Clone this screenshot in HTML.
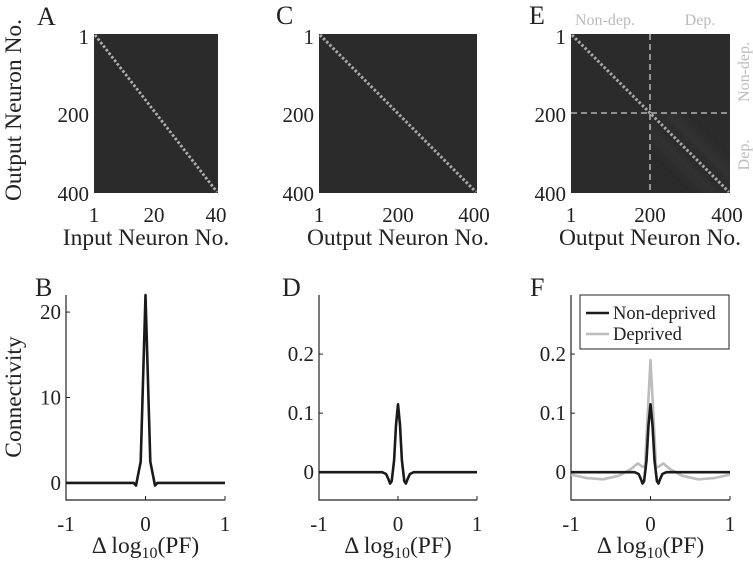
<!DOCTYPE html>
<html><head><meta charset="utf-8">
<style>
html,body{margin:0;padding:0;background:#fff;}
svg{display:block;font-family:"Liberation Serif",serif;}
.t{font-size:21px;fill:#222;}
.lab{font-size:23.5px;fill:#222;}
.pl{font-size:26px;fill:#222;}
.g{font-size:16px;fill:#bbb;}
</style></head>
<body>
<svg id="fig" width="753" height="564" viewBox="0 0 753 564">
<defs><filter id="bl"><feGaussianBlur stdDeviation="4"/></filter>
<clipPath id="ce"><rect x="650" y="113" width="80" height="80"/></clipPath></defs>
<!-- Panel A -->
<g>
<text class="pl" x="37" y="25">A</text>
<rect x="94" y="34" width="124" height="159" fill="#2b2b2b"/>
<line x1="95" y1="35" x2="217" y2="192" stroke="#b0b0b0" stroke-width="2.8" stroke-dasharray="2.5,2"/>
<text class="t" x="89" y="44" text-anchor="end">1</text>
<text class="t" x="89" y="122" text-anchor="end">200</text>
<text class="t" x="89" y="201" text-anchor="end">400</text>
<text class="t" x="94" y="222" text-anchor="middle">1</text>
<text class="t" x="154" y="222" text-anchor="middle">20</text>
<text class="t" x="216" y="222" text-anchor="middle">40</text>
<text class="lab" x="146" y="245" text-anchor="middle">Input Neuron No.</text>
<text class="lab" transform="translate(21,110) rotate(-90)" text-anchor="middle">Output Neuron No.</text>
</g>
<!-- Panel C -->
<g>
<text class="pl" x="276" y="24">C</text>
<rect x="319" y="34" width="158" height="159" fill="#2b2b2b"/>
<line x1="320" y1="35" x2="476" y2="192" stroke="#a8a8a8" stroke-width="3" stroke-dasharray="2.5,2"/>
<text class="t" x="314" y="44" text-anchor="end">1</text>
<text class="t" x="314" y="122" text-anchor="end">200</text>
<text class="t" x="314" y="201" text-anchor="end">400</text>
<text class="t" x="319" y="222" text-anchor="middle">1</text>
<text class="t" x="398" y="222" text-anchor="middle">200</text>
<text class="t" x="474" y="222" text-anchor="middle">400</text>
<text class="lab" x="398" y="245" text-anchor="middle">Output Neuron No.</text>
</g>
<!-- Panel E -->
<g>
<text class="pl" x="529" y="24">E</text>
<rect x="571" y="34" width="159" height="159" fill="#2b2b2b"/>
<g clip-path="url(#ce)"><line x1="650" y1="113" x2="730" y2="193" stroke="#333" stroke-width="40" filter="url(#bl)"/><line x1="650" y1="113" x2="730" y2="193" stroke="#2a2a2a" stroke-width="14" filter="url(#bl)"/></g>
<line x1="572" y1="35" x2="729" y2="192" stroke="#a8a8a8" stroke-width="3" stroke-dasharray="2.5,2"/>
<line x1="650" y1="34" x2="650" y2="193" stroke="#ccc" stroke-width="1.3" stroke-dasharray="6,4"/>
<line x1="571" y1="113" x2="730" y2="113" stroke="#ccc" stroke-width="1.3" stroke-dasharray="6,4"/>
<text class="g" x="605" y="25" text-anchor="middle">Non-dep.</text>
<text class="g" x="700" y="25" text-anchor="middle">Dep.</text>
<text class="g" transform="translate(749,72) rotate(-90)" text-anchor="middle">Non-dep.</text>
<text class="g" transform="translate(749,155) rotate(-90)" text-anchor="middle">Dep.</text>
<text class="t" x="566" y="44" text-anchor="end">1</text>
<text class="t" x="566" y="122" text-anchor="end">200</text>
<text class="t" x="566" y="201" text-anchor="end">400</text>
<text class="t" x="571" y="222" text-anchor="middle">1</text>
<text class="t" x="650" y="222" text-anchor="middle">200</text>
<text class="t" x="727" y="222" text-anchor="middle">400</text>
<text class="lab" x="650" y="245" text-anchor="middle">Output Neuron No.</text>
</g>
<text class="pl" x="35" y="296">B</text>
<text class="pl" x="282" y="296">D</text>
<text class="pl" x="530" y="296">F</text>
<g id="plots"></g>
</svg>
<script>
const xTicks = [-1, 0, 1];
const bX = [-1, -0.15, -0.12, -0.06, 0, 0.06, 0.12, 0.15, 1];
const bY = [0, 0, -0.3, 2.5, 22, 2.5, -0.3, 0, 0];
const bTicks = [0, 10, 20];
const dX = [-1, -0.3, -0.2, -0.15, -0.12, -0.1, -0.08, -0.05, -0.025, 0, 0.025, 0.05, 0.08, 0.1, 0.12, 0.15, 0.2, 0.3, 1];
const dY = [0, 0, 0, -0.003, -0.012, -0.019, -0.015, 0.02, 0.08, 0.115, 0.08, 0.02, -0.015, -0.019, -0.012, -0.003, 0, 0, 0];
const dTicks = [0, 0.1, 0.2];
const fGrayX = [-1, -0.8, -0.6, -0.4, -0.25, -0.16, -0.11, -0.07, -0.035, 0, 0.035, 0.07, 0.11, 0.16, 0.25, 0.4, 0.6, 0.8, 1];
const fGrayY = [-0.004, -0.01, -0.012, -0.006, 0.005, 0.015, 0.01, 0.008, 0.1, 0.19, 0.1, 0.008, 0.01, 0.015, 0.005, -0.006, -0.012, -0.01, -0.004];
const NS = 'http://www.w3.org/2000/svg';
const root = document.getElementById('plots');
function mk(tag, attrs, parent){const e=document.createElementNS(NS,tag);for(const k in attrs)e.setAttribute(k,attrs[k]);(parent||root).appendChild(e);return e;}
function axes(name, x0, x1, y0, y1, ymin, ymax, yTicks, fmt){
  const g = mk('g', {});
  
  
  const sx = v => x0 + (v + 1) / 2 * (x1 - x0);
  const sy = v => y1 - (v - ymin) / (ymax - ymin) * (y1 - y0);
  mk('path', {d:`M${x0},${y0}V${y1}H${x1}`, fill:'none', stroke:'#222', 'stroke-width':1.2}, g);
  xTicks.forEach(t => {
    mk('line', {x1:sx(t), x2:sx(t), y1:y1, y2:y1-4, stroke:'#222'}, g);
    const tx = mk('text', {class:'t', x:sx(t), y:y1+31, 'text-anchor':'middle'}, g);
    tx.textContent = t;
  });
  yTicks.forEach(t => {
    mk('line', {x1:x0, x2:x0+4, y1:sy(t), y2:sy(t), stroke:'#222'}, g);
    const tx = mk('text', {class:'t', x:x0-5, y:sy(t)+7, 'text-anchor':'end'}, g);
    tx.textContent = fmt(t);
  });
  const xl = mk('text', {class:'lab', x:(x0+x1)/2, y:553, 'text-anchor':'middle'}, g);
  xl.innerHTML = 'Δ log<tspan font-size="16" dy="5">10</tspan><tspan dy="-5">(PF)</tspan>';
  return {g, sx, sy};
}
function line(ax, xs, ys, color, name){
  const d = xs.map((x,i)=>(i?'L':'M')+ax.sx(x).toFixed(1)+','+ax.sy(ys[i]).toFixed(1)).join('');
  const p = mk('path', {d, fill:'none', stroke:color, 'stroke-width':2.6, 'stroke-linejoin':'round'}, ax.g);
  
  
}
const f1 = t => t === 0 ? '0' : t.toFixed(1);
const B = axes('plot-b', 66, 225, 295, 500, -2, 22, bTicks, t => String(t));
line(B, bX, bY, '#1a1a1a', 'connectivity-line-b');
const yl = mk('text', {class:'lab', transform:'translate(21,397) rotate(-90)', 'text-anchor':'middle'}, B.g);


yl.textContent = 'Connectivity';
const D = axes('plot-d', 319, 477, 295, 500, -0.047, 0.3, dTicks, f1);
line(D, dX, dY, '#1a1a1a', 'connectivity-line-d');
const F = axes('plot-f', 571, 730, 295, 500, -0.047, 0.3, dTicks, f1);
line(F, fGrayX, fGrayY, '#bdbdbd', 'deprived-line');
line(F, dX, dY, '#1a1a1a', 'non-deprived-line');
const lg = mk('g', {}, F.g);


mk('rect', {x:580, y:295, width:149, height:54, fill:'#fff', stroke:'#222', 'stroke-width':1}, lg);
mk('line', {x1:586, x2:609, y1:313, y2:313, stroke:'#1a1a1a', 'stroke-width':2.6}, lg);
mk('line', {x1:586, x2:609, y1:334, y2:334, stroke:'#bdbdbd', 'stroke-width':2.6}, lg);
const l1 = mk('text', {x:613, y:319, 'font-size':18.5, fill:'#222'}, lg);


l1.textContent = 'Non-deprived';
const l2 = mk('text', {x:613, y:340, 'font-size':18.5, fill:'#222'}, lg);


l2.textContent = 'Deprived';
</script>
</body></html>
